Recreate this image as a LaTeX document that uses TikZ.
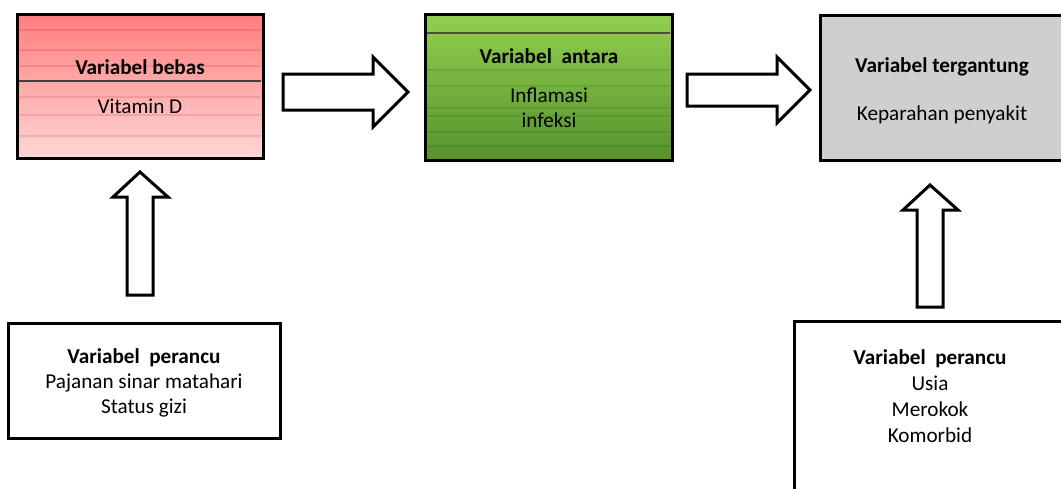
\documentclass[tikz,border=0pt]{standalone}
\usepackage{fontspec}
\setmainfont{Carlito}
\usetikzlibrary{fit}
\definecolor{redtop}{HTML}{FF7E7E}
\definecolor{redbot}{HTML}{FFD6D6}
\definecolor{greentop}{HTML}{92D050}
\definecolor{greenbot}{HTML}{55922C}
\definecolor{greybox}{HTML}{D0CECE}
\begin{document}
\begin{tikzpicture}[x=0.5pt,y=-0.5pt,
  box/.style={draw=black, line width=1.5pt, inner sep=0pt},
  lbl/.style={anchor=base, inner sep=0pt, font=\fontsize{10.6}{12.9}\selectfont},
  ttl/.style={lbl, font=\fontsize{10.6}{12.9}\selectfont\bfseries},
  blockarrow/.style={draw=black, line width=1.5pt, fill=white, line join=miter},
  stripe/.style={line width=1.2pt, opacity=0.12}]
\useasboundingbox (0,0) rectangle (1061,488);
\clip (0,0) rectangle (1061,488);
\fill[white] (0,0) rectangle (1061,488);

% corner coordinates
\coordinate (b1nw) at (17,14);   \coordinate (b1se) at (263,158);
\coordinate (b2nw) at (425,14);  \coordinate (b2se) at (672,160);
\coordinate (b3nw) at (820,15);  \coordinate (b3se) at (1075,160);
\coordinate (b4nw) at (8,323);   \coordinate (b4se) at (280,438);
\coordinate (b5nw) at (794,321); \coordinate (b5se) at (1075,505);

% boxes
\node[box, fit=(b1nw)(b1se), top color=redtop, bottom color=redbot] (bebas) {};
\foreach \yy in {30,50,66,97,115,136} \draw[stripe, red!60!black] (19,\yy) -- (261,\yy);
\draw[black!75, line width=0.8pt] (19,81) -- (261,81);

\node[box, fit=(b2nw)(b2se), top color=greentop, bottom color=greenbot] (antara) {};
\foreach \yy in {70,86,108,116,132,146} \draw[stripe, green!30!black] (427,\yy) -- (670,\yy);
\draw[black!70, line width=0.8pt] (427,33) -- (670,33);

\node[box, fit=(b3nw)(b3se), fill=greybox] (tergantung) {};
\node[box, fit=(b4nw)(b4se), fill=white] (perancuA) {};
\node[box, fit=(b5nw)(b5se), fill=white] (perancuB) {};

% texts
\node[ttl] (t1) at (140,74) {Variabel bebas};
\node[lbl] (t1a) at (140,113) {Vitamin D};

\node[ttl] (t2) at (549,63) {Variabel\ \ antara};
\node[lbl] (t2a) at (549,102) {Inflamasi};
\node[lbl] (t2b) at (549,127) {infeksi};

\node[ttl] (t3) at (942,72) {Variabel tergantung};
\node[lbl] (t3a) at (942,120) {Keparahan penyakit};

\node[ttl] (t4) at (144,363) {Variabel\ \ perancu};
\node[lbl] (t4a) at (144,388) {Pajanan sinar matahari};
\node[lbl] (t4b) at (144,413) {Status gizi};

\node[ttl] (t5) at (930,364) {Variabel\ \ perancu};
\node[lbl] (t5a) at (930,390) {Usia};
\node[lbl] (t5b) at (930,416) {Merokok};
\node[lbl] (t5c) at (930,442) {Komorbid};

% block arrows
\draw[blockarrow] (283,74) -- (373,74) -- (373,57) -- (408,92) -- (373,127) -- (373,110) -- (283,110) -- cycle;
\draw[blockarrow] (687,74) -- (777,74) -- (777,57) -- (810,90) -- (777,123) -- (777,106) -- (687,106) -- cycle;
\draw[blockarrow] (127,295) -- (127,197) -- (113,197) -- (140,172) -- (168,197) -- (153,197) -- (153,295) -- cycle;
\draw[blockarrow] (917,307) -- (917,210) -- (903,210) -- (930,185) -- (958,210) -- (943,210) -- (943,307) -- cycle;
\end{tikzpicture}
\end{document}
